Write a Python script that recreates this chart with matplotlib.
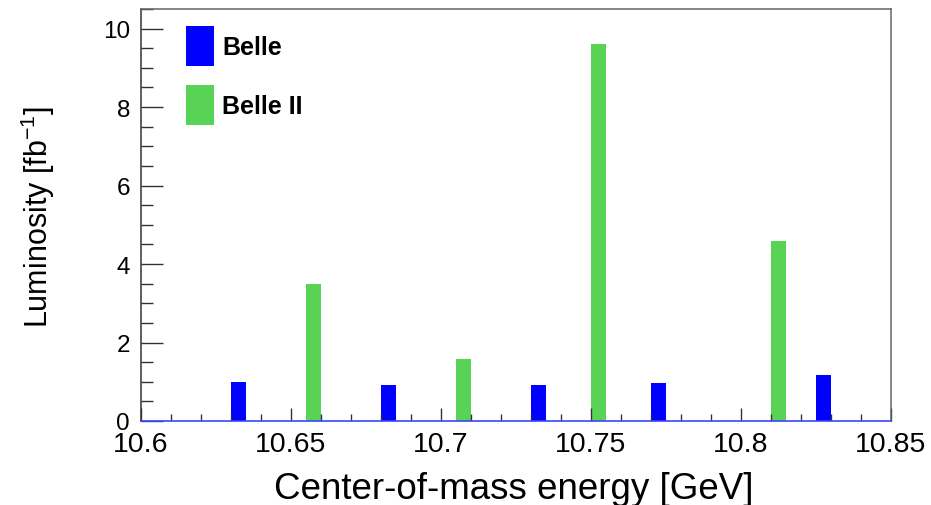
import matplotlib
matplotlib.use('Agg')
import matplotlib.pyplot as plt
from matplotlib.ticker import MultipleLocator, FormatStrFormatter

plt.rcParams['font.family'] = ['Liberation Sans', 'DejaVu Sans']
plt.rcParams['mathtext.fontset'] = 'custom'
plt.rcParams['mathtext.rm'] = 'Liberation Sans'
plt.rcParams['mathtext.it'] = 'Liberation Sans:italic'

# Luminosity per energy point (bin centres, bin width 5 MeV)
belle_energy = [10.6325, 10.6825, 10.7325, 10.7725, 10.8275]
belle_lumi = [0.99, 0.93, 0.92, 0.97, 1.17]
belle2_energy = [10.6575, 10.7075, 10.7525, 10.8125]
belle2_lumi = [3.50, 1.57, 9.62, 4.60]
bin_width = 0.005

fig = plt.figure(figsize=(9.31, 5.06), dpi=100)
ax = fig.add_axes([141 / 931, 1 - 422 / 506, (890.5 - 141) / 931, (422 - 10) / 506])

ax.bar(belle_energy, belle_lumi, width=bin_width, color='#0000ff', label='Belle')
ax.bar(belle2_energy, belle2_lumi, width=bin_width, color='#58d356', label='Belle II')

ax.set_xlim(10.6, 10.85)
ax.set_ylim(0, 10.5)

ax.xaxis.set_major_locator(MultipleLocator(0.05))
ax.xaxis.set_minor_locator(MultipleLocator(0.01))
ax.xaxis.set_major_formatter(FormatStrFormatter('%g'))
ax.yaxis.set_major_locator(MultipleLocator(2))
ax.yaxis.set_minor_locator(MultipleLocator(0.5))

ax.tick_params(axis='both', which='both', direction='in', color='#333333', width=1.0,
               top=False, right=False)
ax.tick_params(axis='x', which='major', length=9.1, labelsize=20.5, pad=7.5)
ax.tick_params(axis='x', which='minor', length=4.7)
ax.tick_params(axis='y', which='major', length=15.6, labelsize=17.5, pad=8)
ax.tick_params(axis='y', which='minor', length=8.6)

for side in ['top', 'right']:
    ax.spines[side].set_color('#666666')
    ax.spines[side].set_linewidth(1.1)
ax.spines['left'].set_color('#333333')
ax.spines['left'].set_linewidth(1.1)
ax.spines['bottom'].set_color('#3a46ff')
ax.spines['bottom'].set_linewidth(1.2)

fig.text(514 / 931, 1 - 499 / 506, 'Center-of-mass energy [GeV]', fontsize=26.5,
         ha='center', va='baseline')
fig.text(48 / 931, 1 - 217 / 506, 'Luminosity [fb$^{-1}$]', fontsize=22,
         rotation=90, rotation_mode='anchor', ha='center', va='baseline')

ax.legend(loc='upper left', bbox_to_anchor=(186 / 931, 1 - 27 / 506),
          bbox_transform=fig.transFigure, frameon=False, borderpad=0,
          borderaxespad=0, handlelength=1.12, handleheight=2.085,
          handletextpad=0.32, labelspacing=0.76,
          prop={'size': 18, 'weight': 'bold'})

fig.savefig('out.png', dpi=100)
